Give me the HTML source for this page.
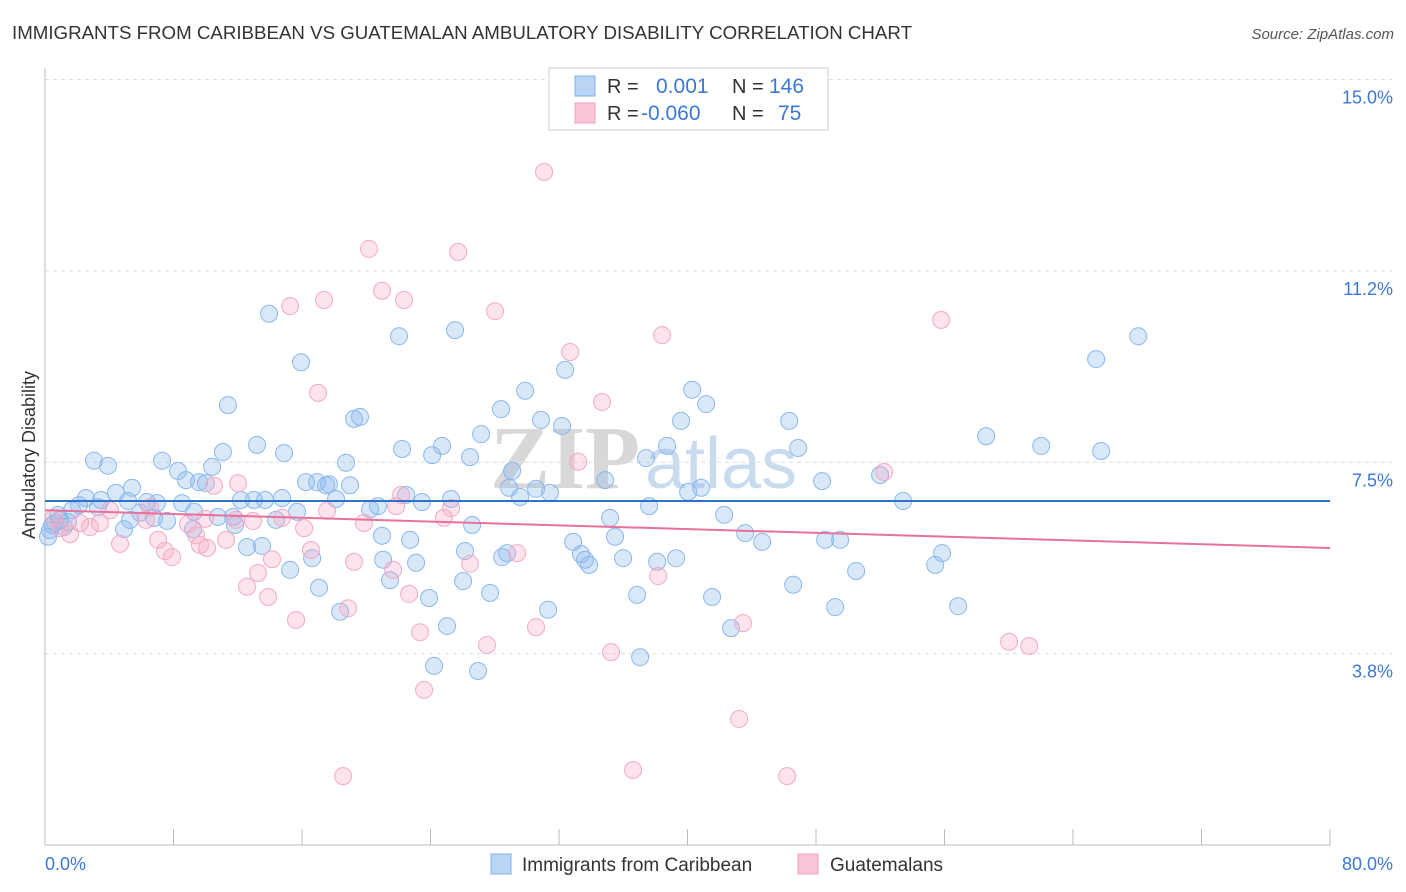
<!DOCTYPE html>
<html><head><meta charset="utf-8">
<style>
body{margin:0;background:#fff;font-family:"Liberation Sans",sans-serif;}
svg{display:block}
</style></head>
<body>
<svg id="chart" width="1406" height="892" xmlns="http://www.w3.org/2000/svg">
<text x="12" y="39" font-size="18.5" fill="#333" textLength="900" lengthAdjust="spacingAndGlyphs">IMMIGRANTS FROM CARIBBEAN VS GUATEMALAN AMBULATORY DISABILITY CORRELATION CHART</text>
<text x="1394" y="39" font-size="15" fill="#555" text-anchor="end" font-style="italic">Source: ZipAtlas.com</text>
<text x="640" y="488" font-size="90" fill="#d8d8d8" text-anchor="end" font-family="Liberation Serif" font-weight="bold">ZIP</text>
<text x="645" y="488" font-size="72" fill="#c9dcef">atlas</text>
<text transform="translate(35,455) rotate(-90)" font-size="18" fill="#333" text-anchor="middle">Ambulatory Disability</text>
<g id="grid"></g><g id="ticks"></g><g id="pts"></g><g id="trends"></g>
<g>
<rect x="549" y="68" width="279" height="62" fill="#fff" stroke="#ccc"/>
<rect x="575" y="76" width="20" height="20" fill="#b9d4f4" stroke="#7fb0e8"/>
<rect x="575" y="103" width="20" height="20" fill="#fbc7d8" stroke="#f0a0bc"/>
<text y="93" font-size="20" fill="#333"><tspan x="607">R =</tspan><tspan x="656" fill="#3b78d8" font-size="21">0.001</tspan><tspan x="732">N =</tspan><tspan x="769" fill="#3b78d8" font-size="21">146</tspan></text>
<text y="120" font-size="20" fill="#333"><tspan x="607">R =</tspan><tspan x="641" fill="#3b78d8" font-size="21">-0.060</tspan><tspan x="732">N =</tspan><tspan x="778" fill="#3b78d8" font-size="21">75</tspan></text>
</g>
<g>
<rect x="491" y="854" width="20" height="20" fill="#b9d4f4" stroke="#7fb0e8"/>
<text x="522" y="871" font-size="19" fill="#333">Immigrants from Caribbean</text>
<rect x="798" y="854" width="20" height="20" fill="#fbc7d8" stroke="#f0a0bc"/>
<text x="830" y="871" font-size="19" fill="#333">Guatemalans</text>
</g>
</svg>
<script>
const xTicks=[0,8,16,24,32,40,48,56,64,72,80];
const yTicks=[3.75,7.5,11.25,15];
const yTickLabels=["3.8%","7.5%","11.2%","15.0%"];
const xEndLabels=["0.0%","80.0%"];
const blueX=[68.06,65.44,58.59,62.02,65.75,51.99,53.42,55.85,55.42,56.85,50.5,49.19,48.57,49.5,48.38,46.89,46.33,46.58,44.65,43.59,42.71,42.28,41.53,41.16,40.29,40.85,40.04,39.6,38.73,39.29,38.11,37.61,37.42,37.05,36.86,35.99,35.49,35.18,34.87,33.87,33.37,33.62,32.88,32.38,32.19,30.88,31.32,31.44,30.57,29.58,29.08,28.89,28.39,29.89,27.15,26.46,26.59,26.15,26.03,27.71,28.46,28.77,25.53,24.72,24.1,25.03,24.22,26.96,25.28,23.47,23.91,22.73,23.1,22.48,22.23,22.04,21.48,21.05,20.98,20.73,20.24,19.61,19.24,18.99,18.74,18.12,17.5,16.94,17.68,17.06,18.37,16.63,16.25,15.94,15.69,15.26,14.88,14.76,14.38,13.95,13.7,13.51,13.2,13.01,12.58,12.2,11.83,11.71,11.39,11.08,10.77,10.4,10.02,9.59,9.22,9.28,8.78,8.53,8.28,7.6,7.29,6.97,6.79,6.35,5.92,5.42,5.17,4.92,4.42,3.92,3.49,3.05,3.3,2.55,2.12,1.68,1.43,1.18,0.81,0.44,0.31,0.19,0.93,0.62,5.29];
const blueY=[9.97,9.52,8.01,7.82,7.72,7.25,6.74,5.72,5.49,4.68,5.37,4.66,5.98,5.98,7.13,7.78,8.31,5.1,5.94,6.11,4.25,6.47,4.86,8.64,8.92,7.0,6.92,8.31,7.82,5.62,5.55,6.64,7.58,3.68,4.9,5.62,6.04,6.41,7.15,5.49,5.7,5.59,5.94,9.31,8.21,8.33,4.61,6.9,6.98,6.82,7.33,7.0,8.54,8.9,8.05,7.6,6.27,5.76,5.17,4.94,5.64,5.72,10.09,7.82,7.64,4.29,3.51,3.41,6.78,6.72,4.84,5.98,5.53,6.86,7.76,9.97,5.19,5.59,6.06,6.64,6.58,8.39,8.35,7.05,7.49,6.78,7.05,7.11,7.07,5.04,4.57,5.62,7.11,9.46,6.53,5.39,7.68,6.8,6.37,10.41,6.76,5.86,7.84,6.76,5.84,6.76,6.27,6.43,8.62,7.7,6.43,7.41,7.09,7.11,6.19,6.53,7.15,6.7,7.33,6.35,7.53,6.7,6.41,6.72,6.51,7.0,6.74,6.19,6.9,7.43,6.76,7.53,6.62,6.8,6.66,6.56,6.33,6.23,6.47,6.27,6.17,6.04,6.37,6.31,6.37];
const pinkX=[31.07,20.17,25.72,20.98,22.35,17.37,15.26,28.02,38.42,55.79,32.69,17.0,34.68,33.19,52.24,12.02,10.52,25.28,24.84,22.17,21.86,19.86,17.56,16.13,14.76,12.95,11.89,9.96,9.4,8.9,9.65,10.09,7.04,7.47,7.91,4.67,4.05,3.42,2.8,2.18,1.56,0.93,0.56,6.29,6.54,11.27,14.13,13.26,12.58,13.89,15.63,16.56,19.24,18.87,21.67,22.67,23.35,23.6,26.46,27.52,29.39,30.57,35.24,38.17,43.46,43.21,36.61,46.2,18.56,60.02,61.27];
const pinkY=[13.19,11.68,11.62,10.86,10.68,10.68,10.56,10.46,9.99,10.29,9.66,8.86,8.68,7.51,7.31,7.09,7.04,6.6,6.41,6.86,6.64,6.31,6.55,6.21,6.41,6.35,6.37,6.39,6.07,6.29,5.88,5.82,5.98,5.76,5.64,5.9,6.56,6.31,6.23,6.31,6.09,6.21,6.41,6.37,6.62,5.98,5.6,5.33,5.06,4.86,4.41,5.78,5.55,4.64,5.39,4.92,4.17,3.04,5.51,3.92,5.72,4.27,3.78,5.27,4.35,2.47,1.47,1.35,1.35,3.98,3.9];
const trendX=[0,80];
const trendBlue=[6.74,6.74];
const trendPink=[6.56,5.82];
const NS='http://www.w3.org/2000/svg';
const X=v=>45+v/80*1285;
const Y=v=>845-v/15*765.5;
function mk(tag,attrs,parent){const e=document.createElementNS(NS,tag);for(const k in attrs)e.setAttribute(k,attrs[k]);parent.appendChild(e);return e;}
const grid=document.getElementById('grid'),ticks=document.getElementById('ticks'),pts=document.getElementById('pts'),tr=document.getElementById('trends');
yTicks.forEach((t,i)=>{
 const l=mk('line',{x1:45,x2:1392,y1:Y(t),y2:Y(t),stroke:'#ddd','stroke-dasharray':'4,4'},grid);
 
 
 const tx=mk('text',{x:1393,y:Y(t)+24,'font-size':18,fill:'#3b78d8','text-anchor':'end'},ticks);
 tx.textContent=yTickLabels[i];
 
 
});
const ax=mk('line',{x1:45,x2:1330,y1:845,y2:845,stroke:'#bbb'},ticks);


const ay=mk('line',{x1:45,x2:45,y1:68,y2:845,stroke:'#bbb'},ticks);


xTicks.forEach(t=>{
 const l=mk('line',{x1:X(t),x2:X(t),y1:829,y2:845,stroke:'#bbb'},ticks);
 
 
});
const xl0=mk('text',{x:45,y:870,'font-size':18,fill:'#3b78d8'},ticks);xl0.textContent=xEndLabels[0];


const xl1=mk('text',{x:1393,y:870,'font-size':18,fill:'#3b78d8','text-anchor':'end'},ticks);xl1.textContent=xEndLabels[1];


blueX.forEach((v,i)=>{
 const c=mk('circle',{cx:X(v),cy:Y(blueY[i]),r:8.5,fill:'rgba(140,185,238,0.33)',stroke:'#8ab8ec','stroke-width':1},pts);
 
 
});
pinkX.forEach((v,i)=>{
 const c=mk('circle',{cx:X(v),cy:Y(pinkY[i]),r:8.5,fill:'rgba(246,170,198,0.33)',stroke:'#f2aac3','stroke-width':1},pts);
 
 
});
const tb=mk('line',{x1:X(trendX[0]),x2:X(trendX[1]),y1:Y(trendBlue[0]),y2:Y(trendBlue[1]),stroke:'#2f72cc','stroke-width':2},tr);


const tp=mk('line',{x1:X(trendX[0]),x2:X(trendX[1]),y1:Y(trendPink[0]),y2:Y(trendPink[1]),stroke:'#e8709a','stroke-width':2},tr);


</script>
</body></html>
